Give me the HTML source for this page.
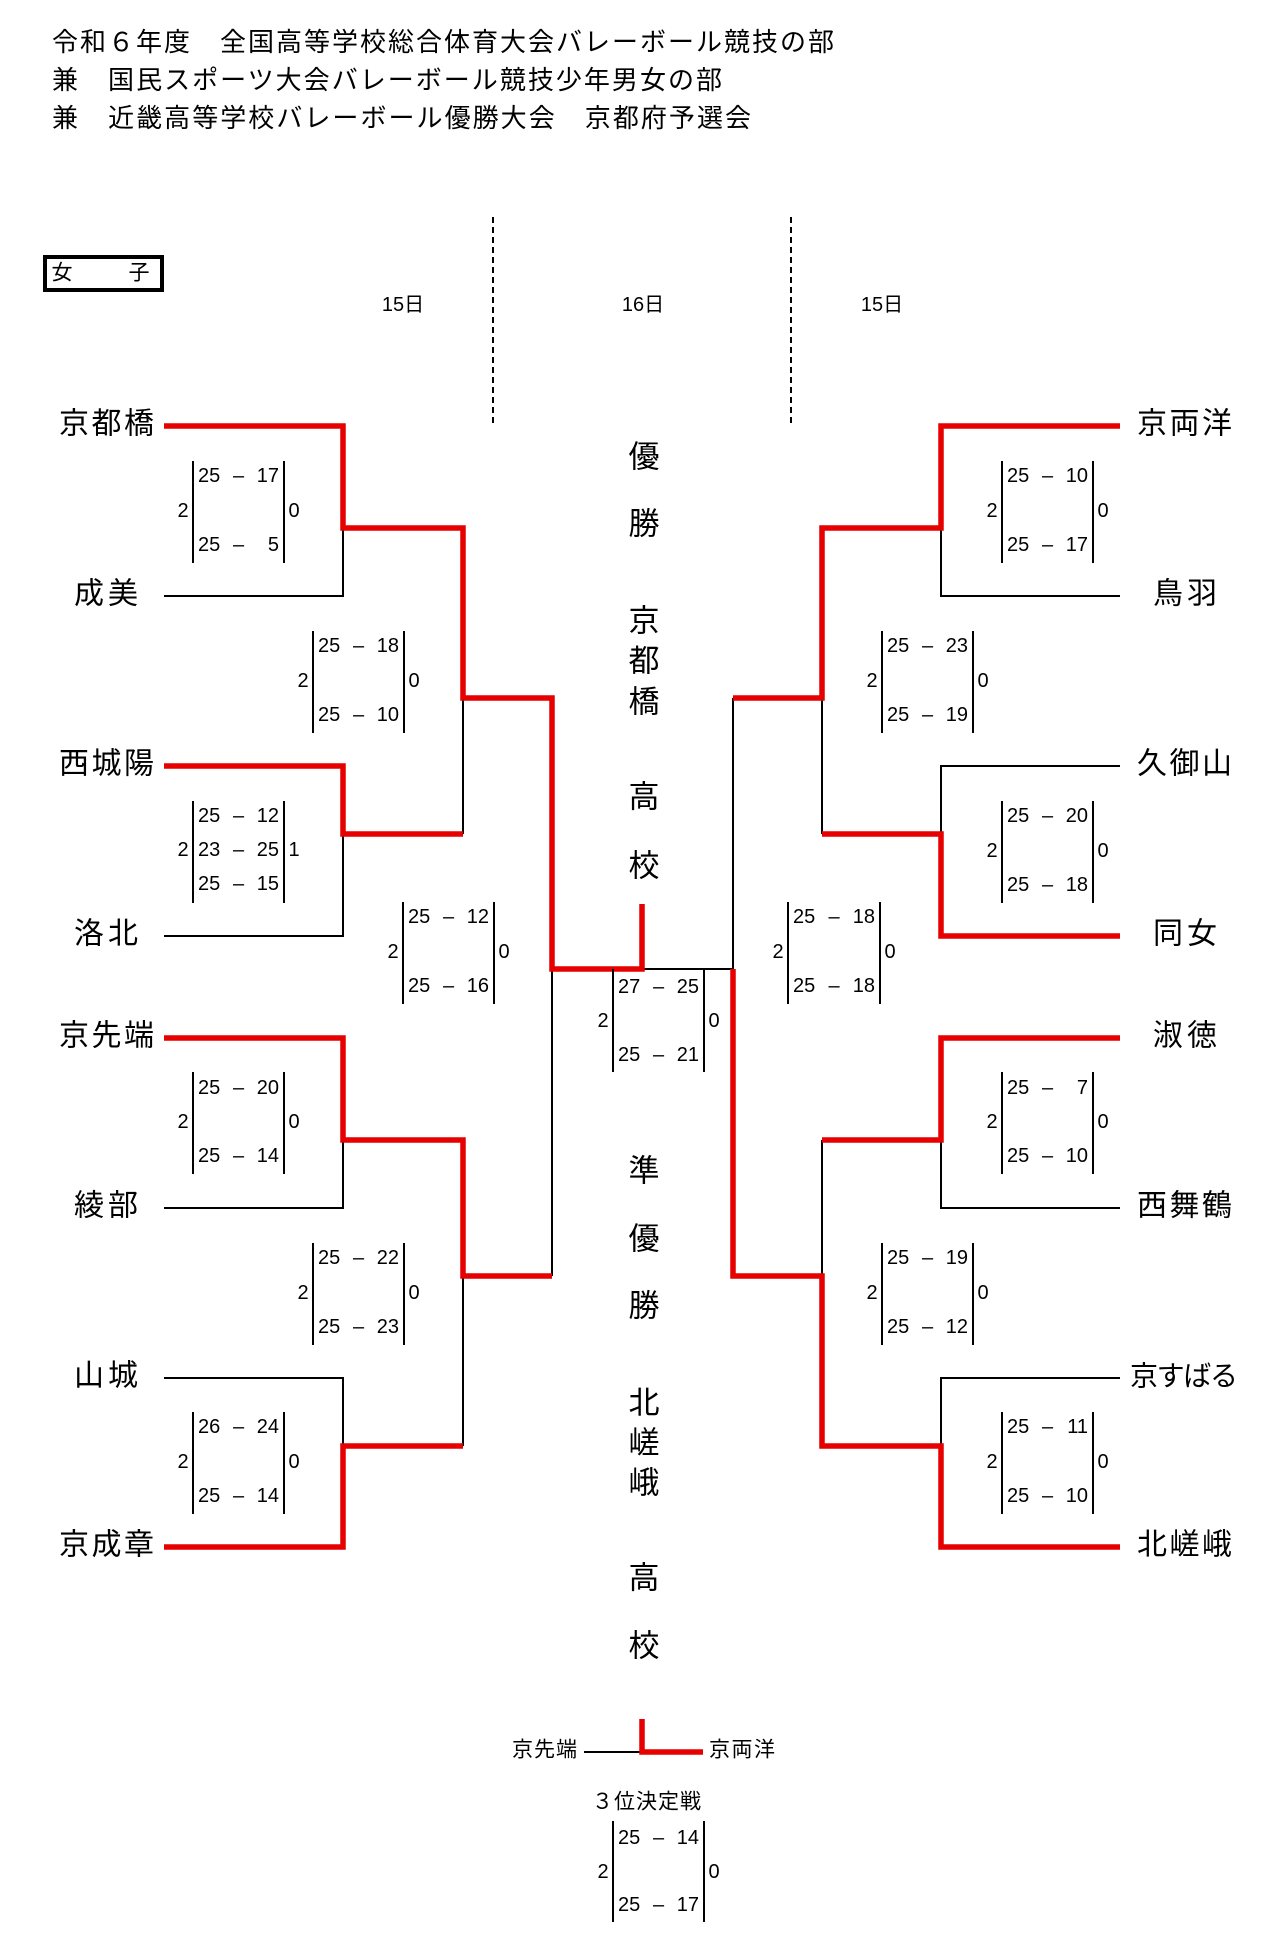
<!DOCTYPE html>
<html><head><meta charset="utf-8"><style>
html,body{margin:0;padding:0;background:#fff;}
svg{display:block;}
.j{font-family:"Liberation Sans","Noto Sans CJK JP",sans-serif;dominant-baseline:central;fill:#000;}
.s{font-family:"Liberation Sans",sans-serif;font-size:20px;dominant-baseline:central;fill:#000;}
.m{text-anchor:middle;}
.e{text-anchor:end;}
.k{stroke:#000;stroke-width:2;fill:none;}
.r{stroke:#e60000;stroke-width:5.5;fill:none;stroke-linejoin:miter;stroke-linecap:butt;}
</style></head><body>
<svg width="1262" height="1937" viewBox="0 0 1262 1937" xmlns="http://www.w3.org/2000/svg">
<rect width="1262" height="1937" fill="#fff"/>
<!-- Title -->
<text class="j" x="52" y="42" font-size="26" textLength="782" lengthAdjust="spacing">令和６年度　全国高等学校総合体育大会バレーボール競技の部</text>
<text class="j" x="52" y="80" font-size="26" textLength="670" lengthAdjust="spacing">兼　国民スポーツ大会バレーボール競技少年男女の部</text>
<text class="j" x="52" y="118" font-size="26" textLength="699" lengthAdjust="spacing">兼　近畿高等学校バレーボール優勝大会　京都府予選会</text>

<!-- 女子 box -->
<rect x="45" y="257" width="117" height="33" fill="none" stroke="#000" stroke-width="4"/>
<text class="j m" x="62" y="273" font-size="21">女</text>
<text class="j m" x="139" y="273" font-size="21">子</text>

<!-- dates -->
<text class="j m" x="403" y="305" font-size="20">15日</text>
<text class="j m" x="643" y="305" font-size="20">16日</text>
<text class="j m" x="882" y="305" font-size="20">15日</text>

<!-- dashed -->
<line x1="493" y1="217" x2="493" y2="425" stroke="#000" stroke-width="2" stroke-dasharray="6 4"/>
<line x1="791" y1="217" x2="791" y2="425" stroke="#000" stroke-width="2" stroke-dasharray="6 4"/>

<!-- left labels -->
<text class="j" x="59" y="424" font-size="30" textLength="95" lengthAdjust="spacing">京都橋</text>
<text class="j" x="74" y="594" font-size="30" textLength="64" lengthAdjust="spacing">成美</text>
<text class="j" x="59" y="764" font-size="30" textLength="95" lengthAdjust="spacing">西城陽</text>
<text class="j" x="74" y="934" font-size="30" textLength="64" lengthAdjust="spacing">洛北</text>
<text class="j" x="59" y="1036" font-size="30" textLength="95" lengthAdjust="spacing">京先端</text>
<text class="j" x="74" y="1206" font-size="30" textLength="64" lengthAdjust="spacing">綾部</text>
<text class="j" x="74" y="1376" font-size="30" textLength="64" lengthAdjust="spacing">山城</text>
<text class="j" x="59" y="1545" font-size="30" textLength="95" lengthAdjust="spacing">京成章</text>

<!-- right labels -->
<text class="j" x="1137" y="424" font-size="30" textLength="95" lengthAdjust="spacing">京両洋</text>
<text class="j" x="1153" y="594" font-size="30" textLength="64" lengthAdjust="spacing">鳥羽</text>
<text class="j" x="1137" y="764" font-size="30" textLength="95" lengthAdjust="spacing">久御山</text>
<text class="j" x="1153" y="934" font-size="30" textLength="64" lengthAdjust="spacing">同女</text>
<text class="j" x="1153" y="1036" font-size="30" textLength="64" lengthAdjust="spacing">淑徳</text>
<text class="j" x="1137" y="1206" font-size="30" textLength="95" lengthAdjust="spacing">西舞鶴</text>
<text class="j" x="1130" y="1376" font-size="28" textLength="108" lengthAdjust="spacing">京すばる</text>
<text class="j" x="1137" y="1545" font-size="30" textLength="95" lengthAdjust="spacing">北嵯峨</text>

<!-- center vertical text -->
<g font-size="31">
<text class="j m" x="644" y="457">優</text>
<text class="j m" x="644" y="524">勝</text>
<text class="j m" x="644" y="621">京</text>
<text class="j m" x="644" y="661">都</text>
<text class="j m" x="644" y="702">橋</text>
<text class="j m" x="644" y="797">高</text>
<text class="j m" x="644" y="866">校</text>
<text class="j m" x="644" y="1171">準</text>
<text class="j m" x="644" y="1239">優</text>
<text class="j m" x="644" y="1306">勝</text>
<text class="j m" x="644" y="1403">北</text>
<text class="j m" x="644" y="1443">嵯</text>
<text class="j m" x="644" y="1483">峨</text>
<text class="j m" x="644" y="1578">高</text>
<text class="j m" x="644" y="1646">校</text>
</g>

<!-- black lines -->
<polyline class="k" points="164,596 343,596 343,528"/>
<polyline class="k" points="164,936 343,936 343,834"/>
<polyline class="k" points="463,698 463,834"/>
<polyline class="k" points="164,1208 343,1208 343,1140"/>
<polyline class="k" points="164,1378 343,1378 343,1446"/>
<polyline class="k" points="463,1276 463,1446"/>
<polyline class="k" points="552,969 552,1276"/>
<polyline class="k" points="642,969 733,969 733,698"/>
<polyline class="k" points="1120,596 941,596 941,528"/>
<polyline class="k" points="1120,766 941,766 941,834"/>
<polyline class="k" points="822,698 822,834"/>
<polyline class="k" points="1120,1208 941,1208 941,1140"/>
<polyline class="k" points="822,1140 822,1276"/>
<polyline class="k" points="1120,1378 941,1378 941,1446"/>

<!-- red lines -->
<polyline class="r" points="164,426 343,426 343,528 463,528 463,698 552,698 552,969 642,969 642,904"/>
<polyline class="r" points="164,766 343,766 343,834 463,834"/>
<polyline class="r" points="164,1038 343,1038 343,1140 463,1140 463,1276 552,1276"/>
<polyline class="r" points="164,1547 343,1547 343,1446 463,1446"/>
<polyline class="r" points="1120,426 941,426 941,528 822,528 822,698 733,698"/>
<polyline class="r" points="1120,936 941,936 941,834 822,834"/>
<polyline class="r" points="1120,1038 941,1038 941,1140 822,1140"/>
<polyline class="r" points="1120,1547 941,1547 941,1446 822,1446 822,1276 733,1276 733,969"/>

<!-- score boxes -->
<g class="k">
<line x1="193" y1="461" x2="193" y2="563"/><line x1="284" y1="461" x2="284" y2="563"/>
<line x1="313" y1="631" x2="313" y2="733"/><line x1="404" y1="631" x2="404" y2="733"/>
<line x1="193" y1="801" x2="193" y2="903"/><line x1="284" y1="801" x2="284" y2="903"/>
<line x1="403" y1="902" x2="403" y2="1004"/><line x1="494" y1="902" x2="494" y2="1004"/>
<line x1="193" y1="1072" x2="193" y2="1174"/><line x1="284" y1="1072" x2="284" y2="1174"/>
<line x1="313" y1="1243" x2="313" y2="1345"/><line x1="404" y1="1243" x2="404" y2="1345"/>
<line x1="193" y1="1412" x2="193" y2="1514"/><line x1="284" y1="1412" x2="284" y2="1514"/>
<line x1="613" y1="969" x2="613" y2="1072"/><line x1="704" y1="969" x2="704" y2="1072"/>
<line x1="1002" y1="461" x2="1002" y2="563"/><line x1="1093" y1="461" x2="1093" y2="563"/>
<line x1="882" y1="631" x2="882" y2="733"/><line x1="973" y1="631" x2="973" y2="733"/>
<line x1="1002" y1="801" x2="1002" y2="903"/><line x1="1093" y1="801" x2="1093" y2="903"/>
<line x1="788" y1="902" x2="788" y2="1004"/><line x1="880" y1="902" x2="880" y2="1004"/>
<line x1="1002" y1="1072" x2="1002" y2="1174"/><line x1="1093" y1="1072" x2="1093" y2="1174"/>
<line x1="882" y1="1243" x2="882" y2="1345"/><line x1="973" y1="1243" x2="973" y2="1345"/>
<line x1="1002" y1="1412" x2="1002" y2="1514"/><line x1="1093" y1="1412" x2="1093" y2="1514"/>
<line x1="613" y1="1821" x2="613" y2="1922"/><line x1="704" y1="1821" x2="704" y2="1922"/>
</g>

<!-- B1 -->
<text class="s" x="198" y="476">25</text><text class="s m" x="238.5" y="476">–</text><text class="s e" x="279" y="476">17</text>
<text class="s" x="198" y="545">25</text><text class="s m" x="238.5" y="545">–</text><text class="s e" x="279" y="545">5</text>
<text class="s m" x="183" y="511">2</text><text class="s m" x="294" y="511">0</text>
<!-- B2 -->
<text class="s" x="318" y="646">25</text><text class="s m" x="358.5" y="646">–</text><text class="s e" x="399" y="646">18</text>
<text class="s" x="318" y="715">25</text><text class="s m" x="358.5" y="715">–</text><text class="s e" x="399" y="715">10</text>
<text class="s m" x="303" y="681">2</text><text class="s m" x="414" y="681">0</text>
<!-- B3 -->
<text class="s" x="198" y="816">25</text><text class="s m" x="238.5" y="816">–</text><text class="s e" x="279" y="816">12</text>
<text class="s" x="198" y="850">23</text><text class="s m" x="238.5" y="850">–</text><text class="s e" x="279" y="850">25</text>
<text class="s" x="198" y="884">25</text><text class="s m" x="238.5" y="884">–</text><text class="s e" x="279" y="884">15</text>
<text class="s m" x="183" y="850">2</text><text class="s m" x="294" y="850">1</text>
<!-- B4 -->
<text class="s" x="408" y="917">25</text><text class="s m" x="448.5" y="917">–</text><text class="s e" x="489" y="917">12</text>
<text class="s" x="408" y="986">25</text><text class="s m" x="448.5" y="986">–</text><text class="s e" x="489" y="986">16</text>
<text class="s m" x="393" y="952">2</text><text class="s m" x="504" y="952">0</text>
<!-- B5 -->
<text class="s" x="198" y="1088">25</text><text class="s m" x="238.5" y="1088">–</text><text class="s e" x="279" y="1088">20</text>
<text class="s" x="198" y="1156">25</text><text class="s m" x="238.5" y="1156">–</text><text class="s e" x="279" y="1156">14</text>
<text class="s m" x="183" y="1122">2</text><text class="s m" x="294" y="1122">0</text>
<!-- B6 -->
<text class="s" x="318" y="1258">25</text><text class="s m" x="358.5" y="1258">–</text><text class="s e" x="399" y="1258">22</text>
<text class="s" x="318" y="1327">25</text><text class="s m" x="358.5" y="1327">–</text><text class="s e" x="399" y="1327">23</text>
<text class="s m" x="303" y="1293">2</text><text class="s m" x="414" y="1293">0</text>
<!-- B7 -->
<text class="s" x="198" y="1427">26</text><text class="s m" x="238.5" y="1427">–</text><text class="s e" x="279" y="1427">24</text>
<text class="s" x="198" y="1496">25</text><text class="s m" x="238.5" y="1496">–</text><text class="s e" x="279" y="1496">14</text>
<text class="s m" x="183" y="1462">2</text><text class="s m" x="294" y="1462">0</text>
<!-- Final -->
<text class="s" x="618" y="987">27</text><text class="s m" x="658.5" y="987">–</text><text class="s e" x="699" y="987">25</text>
<text class="s" x="618" y="1055">25</text><text class="s m" x="658.5" y="1055">–</text><text class="s e" x="699" y="1055">21</text>
<text class="s m" x="603" y="1021">2</text><text class="s m" x="714" y="1021">0</text>
<!-- RB1 -->
<text class="s" x="1007" y="476">25</text><text class="s m" x="1047.5" y="476">–</text><text class="s e" x="1088" y="476">10</text>
<text class="s" x="1007" y="545">25</text><text class="s m" x="1047.5" y="545">–</text><text class="s e" x="1088" y="545">17</text>
<text class="s m" x="992" y="511">2</text><text class="s m" x="1103" y="511">0</text>
<!-- RB2 -->
<text class="s" x="887" y="646">25</text><text class="s m" x="927.5" y="646">–</text><text class="s e" x="968" y="646">23</text>
<text class="s" x="887" y="715">25</text><text class="s m" x="927.5" y="715">–</text><text class="s e" x="968" y="715">19</text>
<text class="s m" x="872" y="681">2</text><text class="s m" x="983" y="681">0</text>
<!-- RB3 -->
<text class="s" x="1007" y="816">25</text><text class="s m" x="1047.5" y="816">–</text><text class="s e" x="1088" y="816">20</text>
<text class="s" x="1007" y="885">25</text><text class="s m" x="1047.5" y="885">–</text><text class="s e" x="1088" y="885">18</text>
<text class="s m" x="992" y="851">2</text><text class="s m" x="1103" y="851">0</text>
<!-- RB4 -->
<text class="s" x="793" y="917">25</text><text class="s m" x="834" y="917">–</text><text class="s e" x="875" y="917">18</text>
<text class="s" x="793" y="986">25</text><text class="s m" x="834" y="986">–</text><text class="s e" x="875" y="986">18</text>
<text class="s m" x="778" y="952">2</text><text class="s m" x="890" y="952">0</text>
<!-- RB5 -->
<text class="s" x="1007" y="1088">25</text><text class="s m" x="1047.5" y="1088">–</text><text class="s e" x="1088" y="1088">7</text>
<text class="s" x="1007" y="1156">25</text><text class="s m" x="1047.5" y="1156">–</text><text class="s e" x="1088" y="1156">10</text>
<text class="s m" x="992" y="1122">2</text><text class="s m" x="1103" y="1122">0</text>
<!-- RB6 -->
<text class="s" x="887" y="1258">25</text><text class="s m" x="927.5" y="1258">–</text><text class="s e" x="968" y="1258">19</text>
<text class="s" x="887" y="1327">25</text><text class="s m" x="927.5" y="1327">–</text><text class="s e" x="968" y="1327">12</text>
<text class="s m" x="872" y="1293">2</text><text class="s m" x="983" y="1293">0</text>
<!-- RB7 -->
<text class="s" x="1007" y="1427">25</text><text class="s m" x="1047.5" y="1427">–</text><text class="s e" x="1088" y="1427">11</text>
<text class="s" x="1007" y="1496">25</text><text class="s m" x="1047.5" y="1496">–</text><text class="s e" x="1088" y="1496">10</text>
<text class="s m" x="992" y="1462">2</text><text class="s m" x="1103" y="1462">0</text>

<!-- 3rd place -->
<text class="j" x="512" y="1750" font-size="21" textLength="65" lengthAdjust="spacing">京先端</text>
<line x1="584" y1="1752" x2="642" y2="1752" stroke="#000" stroke-width="2"/>
<polyline class="r" points="642,1719 642,1752 703,1752"/>
<text class="j" x="709" y="1750" font-size="21" textLength="66" lengthAdjust="spacing">京両洋</text>
<text class="j" x="592" y="1802" font-size="21" textLength="109" lengthAdjust="spacing">３位決定戦</text>
<text class="s" x="618" y="1838">25</text><text class="s m" x="658.5" y="1838">–</text><text class="s e" x="699" y="1838">14</text>
<text class="s" x="618" y="1905">25</text><text class="s m" x="658.5" y="1905">–</text><text class="s e" x="699" y="1905">17</text>
<text class="s m" x="603" y="1872">2</text><text class="s m" x="714" y="1872">0</text>
</svg>
</body></html>
